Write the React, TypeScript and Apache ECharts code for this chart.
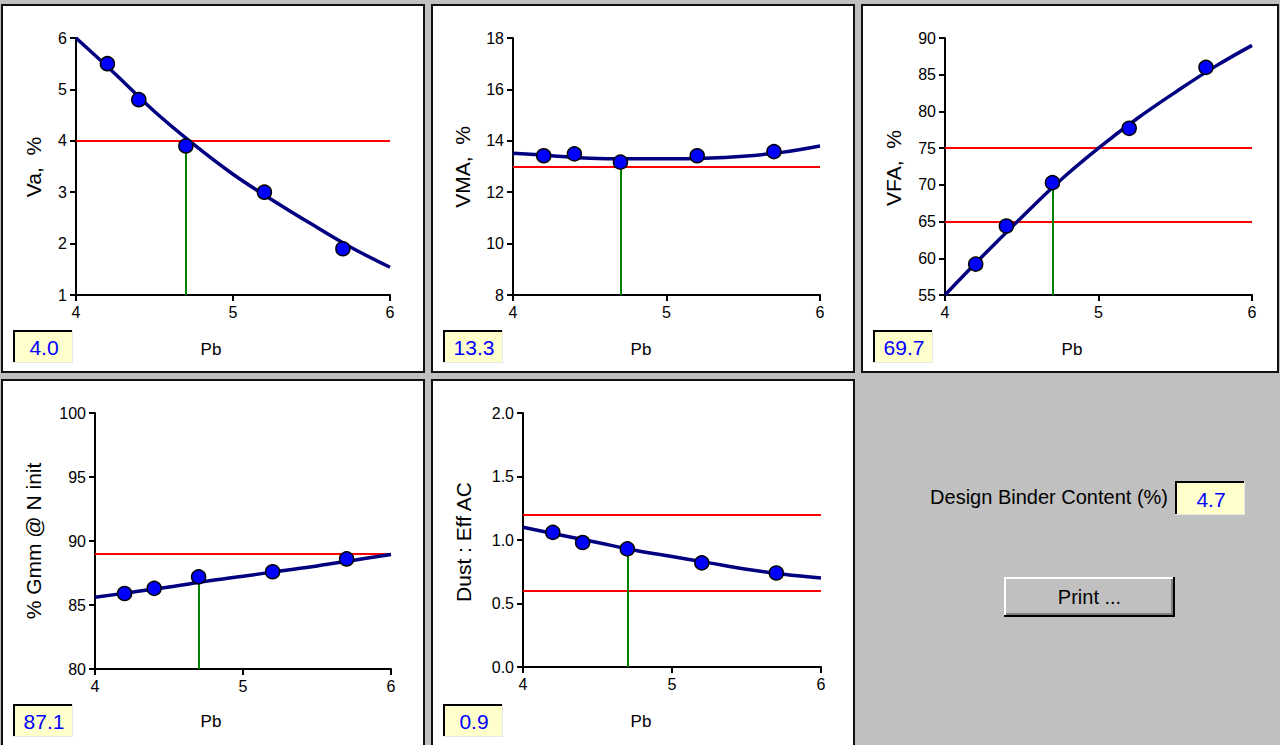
import React, { useEffect, useRef } from "react";
import * as echarts from "echarts";

// ---------- data ----------
const pbPoints = [4.2, 4.4, 4.7, 5.2, 5.7];
const curvePb = [4, 4.25, 4.5, 4.75, 5, 5.25, 5.5, 5.75, 6];
const designPb = 4.7;

const vaPoints = [5.5, 4.8, 3.9, 3.0, 1.9];
const vaCurve = [6.0, 5.3, 4.57, 3.93, 3.35, 2.85, 2.38, 1.93, 1.54];
const vmaPoints = [13.42, 13.49, 13.17, 13.42, 13.58];
const vmaCurve = [13.52, 13.42, 13.32, 13.3, 13.3, 13.32, 13.4, 13.55, 13.8];
const vfaPoints = [59.2, 64.4, 70.3, 77.7, 86.0];
const vfaCurve = [55, 60.4, 65.6, 70.6, 75.0, 79.0, 82.6, 86.0, 89.0];
const gmmPoints = [85.9, 86.3, 87.2, 87.6, 88.6];
const gmmCurve = [85.6, 86.0, 86.4, 86.85, 87.25, 87.65, 88.05, 88.5, 88.95];
const dustPoints = [1.06, 0.98, 0.93, 0.82, 0.74];
const dustCurve = [1.1, 1.04, 0.98, 0.92, 0.87, 0.82, 0.77, 0.73, 0.7];

const yNames = ["Va,  %", "VMA,  %", "VFA,  %", "% Gmm @ N init", "Dust : Eff AC"];
const yMins = [1, 8, 55, 80, 0];
const yMaxs = [6, 18, 90, 100, 2];
const yIntervals = [1, 2, 5, 5, 0.5];
const yDecimals = [0, 0, 0, 0, 1];
const limits = [[4], [13], [65, 75], [89], [0.6, 1.2]];
const atDesign = [4.0, 13.3, 69.7, 87.1, 0.92];
const xTicks = { min: 4, max: 6, interval: 1 };
const xName = "Pb";
const designLabel = "Design Binder Content (%)";
const printLabel = "Print ...";

const allPoints = [vaPoints, vmaPoints, vfaPoints, gmmPoints, dustPoints];
const allCurves = [vaCurve, vmaCurve, vfaCurve, gmmCurve, dustCurve];

// ---------- layout ----------
const FONT = "'Liberation Sans', Arial, sans-serif";
const grids = [
  { left: 76, top: 38, width: 314, height: 257 },
  { left: 513, top: 38, width: 307, height: 257 },
  { left: 945, top: 38, width: 307, height: 257 },
  { left: 95, top: 413, width: 296, height: 256 },
  { left: 523, top: 413, width: 298, height: 254 },
];
const panelRects = [
  [2, 5, 422, 367],
  [432, 5, 422, 367],
  [862, 5, 416, 367],
  [2, 380, 422, 372],
  [432, 380, 422, 372],
];
const valueBoxes = [
  [13, 330],
  [443, 330],
  [873, 330],
  [13, 704],
  [443, 704],
];
const yNamePos = [
  [33.5, 167],
  [462.5, 167],
  [893.5, 168],
  [33, 541],
  [463, 542],
];
const xNamePos = [
  [211, 349],
  [641, 349],
  [1072, 349],
  [211, 721],
  [641, 721],
];

function sunkenBox(x: number, y: number, w: number, h: number, text: string) {
  return [
    { type: "rect", shape: { x, y, width: w, height: h }, style: { fill: "#ffffcc", stroke: null } },
    { type: "line", shape: { x1: x, y1: y + 1, x2: x + w, y2: y + 1 }, style: { stroke: "#000", lineWidth: 2 } },
    { type: "line", shape: { x1: x + 1, y1: y, x2: x + 1, y2: y + h }, style: { stroke: "#000", lineWidth: 2 } },
    { type: "line", shape: { x1: x, y1: y + h - 0.5, x2: x + w, y2: y + h - 0.5 }, style: { stroke: "#e8e8e8", lineWidth: 1 } },
    { type: "line", shape: { x1: x + w - 0.5, y1: y, x2: x + w - 0.5, y2: y + h }, style: { stroke: "#e8e8e8", lineWidth: 1 } },
    {
      type: "text",
      x: x + w / 2 + 1,
      y: y + h / 2 + 1,
      style: { text, fill: "#0000ff", font: `21px ${FONT}`, align: "center", verticalAlign: "middle" },
    },
  ];
}

function buildOption() {
  const graphic: any[] = [];
  panelRects.forEach(([x, y, w, h]) => {
    graphic.push({
      type: "rect",
      z: -10,
      shape: { x, y, width: w, height: h },
      style: { fill: "#ffffff", stroke: "#101010", lineWidth: 2 },
    });
  });
  valueBoxes.forEach(([x, y], i) => {
    graphic.push(...sunkenBox(x, y, 60, 33, atDesign[i].toFixed(1)));
  });
  yNamePos.forEach(([x, y], i) => {
    graphic.push({
      type: "text",
      x,
      y,
      rotation: Math.PI / 2,
      style: { text: yNames[i], fill: "#000", font: `21px ${FONT}`, align: "center", verticalAlign: "middle" },
    });
  });
  xNamePos.forEach(([x, y]) => {
    graphic.push({
      type: "text",
      x,
      y,
      style: { text: xName, fill: "#000", font: `17px ${FONT}`, align: "center", verticalAlign: "middle" },
    });
  });
  // design binder content
  graphic.push({
    type: "text",
    x: 1168,
    y: 497,
    style: { text: designLabel, fill: "#000", font: `20px ${FONT}`, align: "right", verticalAlign: "middle" },
  });
  graphic.push(...sunkenBox(1175, 481, 70, 34, designPb.toFixed(1)));
  // print button
  const bx = 1004, by = 577, bw = 171, bh = 40;
  graphic.push(
    { type: "rect", shape: { x: bx, y: by, width: bw, height: bh }, style: { fill: "#c0c0c0", stroke: null } },
    { type: "line", shape: { x1: bx, y1: by + 1, x2: bx + bw, y2: by + 1 }, style: { stroke: "#ffffff", lineWidth: 2 } },
    { type: "line", shape: { x1: bx + 1, y1: by, x2: bx + 1, y2: by + bh }, style: { stroke: "#ffffff", lineWidth: 2 } },
    { type: "line", shape: { x1: bx, y1: by + bh - 1, x2: bx + bw, y2: by + bh - 1 }, style: { stroke: "#000", lineWidth: 2 } },
    { type: "line", shape: { x1: bx + bw - 1, y1: by, x2: bx + bw - 1, y2: by + bh }, style: { stroke: "#000", lineWidth: 2 } },
    { type: "line", shape: { x1: bx + 2, y1: by + bh - 3, x2: bx + bw - 2, y2: by + bh - 3 }, style: { stroke: "#808080", lineWidth: 2 } },
    { type: "line", shape: { x1: bx + bw - 3, y1: by + 2, x2: bx + bw - 3, y2: by + bh - 2 }, style: { stroke: "#808080", lineWidth: 2 } },
    {
      type: "text",
      x: bx + bw / 2,
      y: by + bh / 2,
      style: { text: printLabel, fill: "#000", font: `20px ${FONT}`, align: "center", verticalAlign: "middle" },
    }
  );

  const axisLine = { show: true, onZero: false, lineStyle: { color: "#000", width: 2 } };
  const axisTick = { show: true, length: 6, lineStyle: { color: "#000", width: 2 } };

  const xAxis = grids.map((_, i) => ({
    type: "value",
    gridIndex: i,
    min: xTicks.min,
    max: xTicks.max,
    interval: xTicks.interval,
    axisLine,
    axisTick,
    splitLine: { show: false },
    axisLabel: { color: "#000", fontFamily: FONT, fontSize: 16, margin: 9 },
  }));
  const yAxis = grids.map((_, i) => ({
    type: "value",
    gridIndex: i,
    min: yMins[i],
    max: yMaxs[i],
    interval: yIntervals[i],
    axisLine,
    axisTick,
    splitLine: { show: false },
    axisLabel: {
      color: "#000",
      fontFamily: FONT,
      fontSize: 16,
      margin: 9,
      formatter: (v: number) => v.toFixed(yDecimals[i]),
    },
  }));

  const series: any[] = [];
  grids.forEach((_, i) => {
    const markData: any[] = limits[i].map((v) => [
      { coord: [xTicks.min, v], lineStyle: { color: "#ff0000", width: 2, type: "solid" } },
      { coord: [xTicks.max, v] },
    ]);
    markData.push([
      { coord: [designPb, yMins[i]], lineStyle: { color: "#008000", width: 2, type: "solid" } },
      { coord: [designPb, atDesign[i]] },
    ]);
    series.push({
      type: "line",
      xAxisIndex: i,
      yAxisIndex: i,
      data: curvePb.map((x, k) => [x, allCurves[i][k]]),
      smooth: 0.4,
      showSymbol: false,
      symbol: "none",
      lineStyle: { color: "#000080", width: 3.5 },
      z: 3,
      markLine: {
        silent: true,
        symbol: ["none", "none"],
        label: { show: false },
        data: markData,
        z: 2,
      },
    });
    series.push({
      type: "scatter",
      xAxisIndex: i,
      yAxisIndex: i,
      data: pbPoints.map((x, k) => [x, allPoints[i][k]]),
      symbol: "circle",
      symbolSize: 14,
      itemStyle: { color: "#0000ff", borderColor: "#000", borderWidth: 1.5, opacity: 1 },
      z: 4,
    });
  });

  return {
    animation: false,
    backgroundColor: "#c0c0c0",
    grid: grids.map((g) => ({ ...g })),
    xAxis,
    yAxis,
    series,
    graphic: { elements: graphic },
  };
}

export default function App() {
  const ref = useRef<HTMLDivElement>(null);
  useEffect(() => {
    const chart = echarts.init(ref.current!, null, { renderer: "svg" });
    chart.setOption(buildOption() as any);
    return () => chart.dispose();
  }, []);
  return (
    <div
      ref={ref}
      style={{ position: "fixed", left: 0, top: 0, width: 1280, height: 745 }}
    />
  );
}
